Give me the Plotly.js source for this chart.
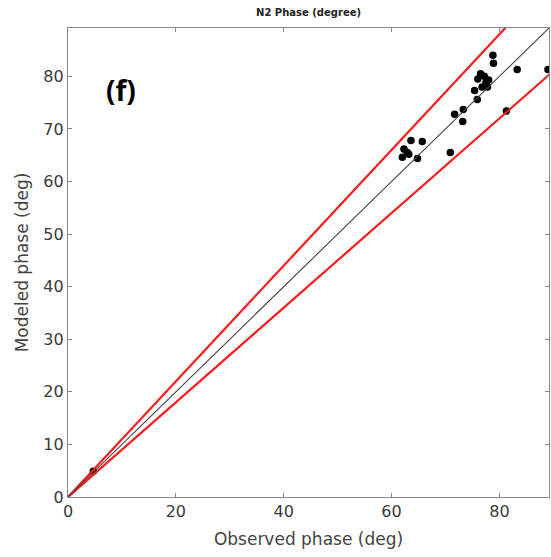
<!DOCTYPE html>
<html>
<head>
<meta charset="utf-8">
<script src="https://cdn.plot.ly/plotly-3.0.1.min.js"></script>
<style>
  html, body { margin: 0; padding: 0; background: #fff; }
  #chart { width: 551px; height: 557px; }
</style>
</head>
<body>
<div id="chart"></div>
<script>
// N2 tidal phase: observed vs modeled, in degrees
const observedPhase = [4.7, 62.0, 62.3, 62.9, 63.2, 63.6, 64.8, 65.7, 70.9, 71.7, 73.2, 73.3,
                       75.4, 75.9, 76.0, 76.5, 76.8, 77.2, 77.5, 77.8, 78.0, 78.8, 78.9, 81.3, 83.3, 89.0];
const modeledPhase  = [4.9, 64.6, 66.2, 65.5, 65.2, 67.8, 64.4, 67.6, 65.5, 72.8, 71.4, 73.7,
                       77.3, 75.6, 79.5, 80.5, 78.0, 80.0, 78.8, 78.0, 79.3, 84.0, 82.5, 73.4, 81.3, 81.3];

// Reference lines y = k·x : 1:1 line and ±10 % envelope
const envelopeRatios = [0.9, 1.1];
const oneToOne = [1.0];
const axisMax = 89.2;

const lineX = [0, axisMax * 1.2];

// scatter first, reference lines drawn over it
const traces = [{
  x: observedPhase, y: modeledPhase,
  mode: 'markers', type: 'scatter',
  marker: { color: '#000000', size: 7.5, symbol: 'circle' },
  showlegend: false
}];
envelopeRatios.forEach(k => {
  traces.push({
    x: lineX, y: lineX.map(v => v * k),
    mode: 'lines', type: 'scatter',
    line: { color: '#ff1a1a', width: 2.2 },
    hoverinfo: 'skip', showlegend: false
  });
});
oneToOne.forEach(k => {
  traces.push({
    x: lineX, y: lineX.map(v => v * k),
    mode: 'lines', type: 'scatter',
    line: { color: '#444444', width: 1.1 },
    hoverinfo: 'skip', showlegend: false
  });
});

const axisCommon = {
  range: [0, axisMax],
  showgrid: false,
  zeroline: false,
  showline: true,
  linecolor: '#8a8a8a',
  linewidth: 1.2,
  mirror: 'ticks',
  ticks: 'inside',
  ticklen: 4,
  tickcolor: '#8a8a8a',
  tickfont: { family: 'DejaVu Sans, sans-serif', size: 16, color: '#3a3a3a' }
};

const layout = {
  width: 551, height: 557,
  margin: { l: 68, r: 2, t: 28, b: 60 },
  paper_bgcolor: '#ffffff',
  plot_bgcolor: '#ffffff',
  showlegend: false,
  title: {
    text: '<b>N2 Phase (degree)</b>',
    font: { family: 'DejaVu Sans, sans-serif', size: 10, color: '#222' },
    x: 0.56, xanchor: 'center', y: 0.977, yanchor: 'middle'
  },
  xaxis: Object.assign({}, axisCommon, {
    dtick: 20, tick0: 0,
    title: { text: 'Observed phase (deg)', standoff: 12,
             font: { family: 'DejaVu Sans, sans-serif', size: 17, color: '#444' } }
  }),
  yaxis: Object.assign({}, axisCommon, {
    dtick: 10, tick0: 0,
    title: { text: 'Modeled phase (deg)', standoff: 10,
             font: { family: 'DejaVu Sans, sans-serif', size: 17, color: '#444' } }
  }),
  annotations: [{
    text: '<b>(f)</b>',
    xref: 'paper', yref: 'paper',
    x: 0.11, y: 0.868, xanchor: 'center', yanchor: 'middle',
    showarrow: false,
    font: { family: 'Open Sans, sans-serif', size: 28, color: '#000' }
  }]
};

Plotly.newPlot('chart', traces, layout, { displayModeBar: false, staticPlot: true });
</script>
</body>
</html>
